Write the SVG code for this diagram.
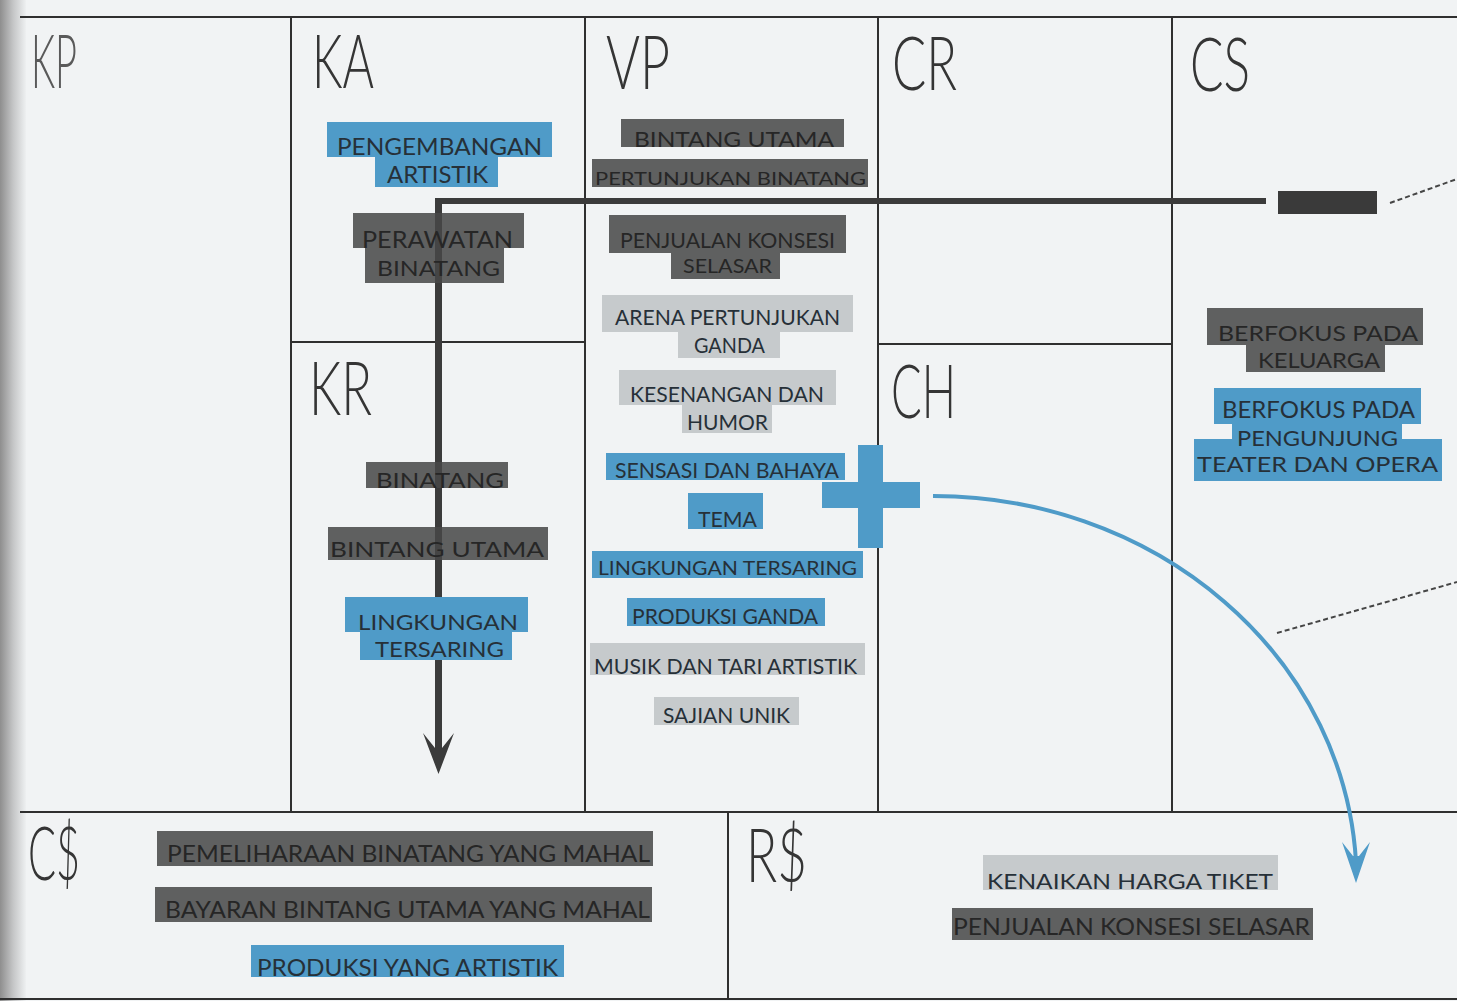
<svg xmlns="http://www.w3.org/2000/svg" width="1457" height="1001" viewBox="0 0 1457 1001">
<style>
.grid{stroke:#2f2f2f;stroke-width:2;fill:none}
.hd{font-family:Lato,"Open Sans","Liberation Sans",sans-serif;font-weight:300;font-size:74px;fill:#353535}
.lb{font-family:Lato,"Open Sans","Liberation Sans",sans-serif;fill:#263038}
.bl{fill:#4f9bc8}
.dk{fill:#474747;fill-opacity:0.86}
.lg{fill:#c6cacc}
.tdk{fill:#262626}
.dash{stroke:#454545;stroke-width:2;stroke-dasharray:5 3;fill:none}
</style>
<defs>
<linearGradient id="gutter" x1="0" y1="0" x2="1" y2="0">
<stop offset="0" stop-color="#8e8e8e"/>
<stop offset="0.5" stop-color="#c4c5c6"/>
<stop offset="1" stop-color="#eef0f1"/>
</linearGradient>
</defs>
<rect x="0" y="0" width="1457" height="1001" fill="#f1f3f4"/>
<rect x="0" y="0" width="26" height="1001" fill="url(#gutter)"/>

<g id="grid">
<line class="grid" x1="20" y1="17" x2="1457" y2="17"/>
<line class="grid" x1="291" y1="17" x2="291" y2="812"/>
<line class="grid" x1="585" y1="17" x2="585" y2="812"/>
<line class="grid" x1="878" y1="17" x2="878" y2="812"/>
<line class="grid" x1="1172" y1="17" x2="1172" y2="812"/>
<line class="grid" x1="291" y1="342" x2="585" y2="342"/>
<line class="grid" x1="878" y1="344" x2="1172" y2="344"/>
<line class="grid" x1="20" y1="812" x2="1457" y2="812"/>
<line class="grid" x1="728" y1="812" x2="728" y2="999"/>
<line class="grid" x1="0" y1="999" x2="1457" y2="999"/>
</g>

<g id="headings">
<text class="hd" x="31" y="88" textLength="46" lengthAdjust="spacingAndGlyphs" style="fill:#5a5a5a">KP</text>
<text class="hd" x="312" y="88" textLength="62" lengthAdjust="spacingAndGlyphs">KA</text>
<text class="hd" x="606" y="89" textLength="64" lengthAdjust="spacingAndGlyphs">VP</text>
<text class="hd" x="892" y="90" textLength="65" lengthAdjust="spacingAndGlyphs">CR</text>
<text class="hd" x="1190" y="91" textLength="60" lengthAdjust="spacingAndGlyphs">CS</text>
<text class="hd" x="309" y="415" textLength="63" lengthAdjust="spacingAndGlyphs">KR</text>
<text class="hd" x="891" y="418" textLength="65" lengthAdjust="spacingAndGlyphs">CH</text>
<text class="hd" x="28" y="880" textLength="52" lengthAdjust="spacingAndGlyphs">C$</text>
<text class="hd" x="746" y="882" textLength="61" lengthAdjust="spacingAndGlyphs">R$</text>
</g>

<g id="connectors">
<path d="M437 201 H1266" stroke="#3b3b3b" stroke-width="6" fill="none"/>
<path d="M438.5 198 V750" stroke="#3b3b3b" stroke-width="7" fill="none"/>
<path d="M435 748 L423 733 L438.5 774 L454 733 L442 748 Z" fill="#3b3b3b"/>
<path d="M1390 203 L1457 179" class="dash"/>
<path d="M1277 633 L1457 582" class="dash"/>
<path d="M933 496 A423 386 0 0 1 1356 862" stroke="#4f9bc8" stroke-width="4" fill="none"/>
<path d="M1353 856 L1342 842 L1356 883 L1370 842 L1359 856 Z" fill="#4f9bc8"/>
</g>

<g id="cs-marker"><rect x="1278" y="191" width="99" height="23" fill="#3a3a3a"/></g>

<g id="plus">
<rect class="bl" x="858" y="445" width="25" height="103"/>
<rect class="bl" x="822" y="482" width="98" height="26"/>
</g>

<g id="ka-pengembangan">
<rect class="bl" x="327" y="122" width="225" height="35"/>
<rect class="bl" x="375" y="157" width="123" height="30"/>
<text class="lb" x="337" y="155" font-size="23" textLength="205" lengthAdjust="spacingAndGlyphs">PENGEMBANGAN</text>
<text class="lb" x="387" y="183" font-size="23" textLength="101" lengthAdjust="spacingAndGlyphs">ARTISTIK</text>
</g>
<g id="ka-perawatan">
<rect class="dk" x="353" y="213" width="171" height="35"/>
<rect class="dk" x="365" y="248" width="139" height="35"/>
<text class="lb tdk" x="362" y="248" font-size="23" textLength="151" lengthAdjust="spacingAndGlyphs">PERAWATAN</text>
<text class="lb tdk" x="377" y="276" font-size="22" textLength="123" lengthAdjust="spacingAndGlyphs">BINATANG</text>
</g>

<g id="vp-bintang">
<rect class="dk" x="621" y="119" width="223" height="28"/>
<text class="lb tdk" x="634" y="147" font-size="21" textLength="200" lengthAdjust="spacingAndGlyphs">BINTANG UTAMA</text>
</g>
<g id="vp-pertunjukan">
<rect class="dk" x="592" y="159" width="276" height="28"/>
<text class="lb tdk" x="595" y="185" font-size="17" textLength="271" lengthAdjust="spacingAndGlyphs">PERTUNJUKAN BINATANG</text>
</g>
<g id="vp-penjualan">
<rect class="dk" x="609" y="215" width="237" height="38"/>
<rect class="dk" x="671" y="253" width="109" height="26"/>
<text class="lb tdk" x="620" y="248" font-size="21" textLength="215" lengthAdjust="spacingAndGlyphs">PENJUALAN KONSESI</text>
<text class="lb tdk" x="683" y="273" font-size="20" textLength="89" lengthAdjust="spacingAndGlyphs">SELASAR</text>
</g>
<g id="vp-arena">
<rect class="lg" x="602" y="295" width="251" height="37"/>
<rect class="lg" x="678" y="332" width="102" height="26"/>
<text class="lb" x="615" y="325" font-size="21" textLength="225" lengthAdjust="spacingAndGlyphs">ARENA PERTUNJUKAN</text>
<text class="lb" x="694" y="353" font-size="21" textLength="71" lengthAdjust="spacingAndGlyphs">GANDA</text>
</g>
<g id="vp-kesenangan">
<rect class="lg" x="619" y="370" width="217" height="35"/>
<rect class="lg" x="682" y="405" width="90" height="28"/>
<text class="lb" x="630" y="402" font-size="22" textLength="194" lengthAdjust="spacingAndGlyphs">KESENANGAN DAN</text>
<text class="lb" x="687" y="430" font-size="21" textLength="81" lengthAdjust="spacingAndGlyphs">HUMOR</text>
</g>
<g id="vp-sensasi">
<rect class="bl" x="606" y="453" width="239" height="27"/>
<text class="lb" x="615" y="478" font-size="21" textLength="224" lengthAdjust="spacingAndGlyphs">SENSASI DAN BAHAYA</text>
</g>
<g id="vp-tema">
<rect class="bl" x="688" y="493" width="75" height="36"/>
<text class="lb" x="698" y="527" font-size="21" textLength="59" lengthAdjust="spacingAndGlyphs">TEMA</text>
</g>
<g id="vp-lingkungan">
<rect class="bl" x="592" y="551" width="271" height="27"/>
<text class="lb" x="598" y="575" font-size="20" textLength="259" lengthAdjust="spacingAndGlyphs">LINGKUNGAN TERSARING</text>
</g>
<g id="vp-produksi">
<rect class="bl" x="627" y="598" width="198" height="28"/>
<text class="lb" x="632" y="624" font-size="21" textLength="186" lengthAdjust="spacingAndGlyphs">PRODUKSI GANDA</text>
</g>
<g id="vp-musik">
<rect class="lg" x="590" y="643" width="275" height="32"/>
<text class="lb" x="594" y="674" font-size="21" textLength="263" lengthAdjust="spacingAndGlyphs">MUSIK DAN TARI ARTISTIK</text>
</g>
<g id="vp-sajian">
<rect class="lg" x="654" y="697" width="145" height="28"/>
<text class="lb" x="663" y="723" font-size="21" textLength="127" lengthAdjust="spacingAndGlyphs">SAJIAN UNIK</text>
</g>

<g id="kr-binatang">
<rect class="dk" x="366" y="462" width="142" height="26"/>
<text class="lb tdk" x="376" y="488" font-size="21" textLength="128" lengthAdjust="spacingAndGlyphs">BINATANG</text>
</g>
<g id="kr-bintang">
<rect class="dk" x="328" y="527" width="220" height="33"/>
<text class="lb tdk" x="330" y="557" font-size="22" textLength="214" lengthAdjust="spacingAndGlyphs">BINTANG UTAMA</text>
</g>
<g id="kr-lingkungan">
<rect class="bl" x="345" y="597" width="183" height="35"/>
<rect class="bl" x="360" y="632" width="152" height="28"/>
<text class="lb" x="358" y="630" font-size="22" textLength="160" lengthAdjust="spacingAndGlyphs">LINGKUNGAN</text>
<text class="lb" x="375" y="657" font-size="22" textLength="129" lengthAdjust="spacingAndGlyphs">TERSARING</text>
</g>

<g id="cs-keluarga">
<rect class="dk" x="1207" y="308" width="216" height="37"/>
<rect class="dk" x="1246" y="345" width="139" height="27"/>
<text class="lb tdk" x="1218" y="341" font-size="22" textLength="200" lengthAdjust="spacingAndGlyphs">BERFOKUS PADA</text>
<text class="lb tdk" x="1258" y="368" font-size="22" textLength="122" lengthAdjust="spacingAndGlyphs">KELUARGA</text>
</g>
<g id="cs-teater">
<rect class="bl" x="1214" y="388" width="207" height="36"/>
<rect class="bl" x="1232" y="424" width="170" height="16"/>
<rect class="bl" x="1194" y="439" width="248" height="42"/>
<text class="lb" x="1222" y="418" font-size="23" textLength="193" lengthAdjust="spacingAndGlyphs">BERFOKUS PADA</text>
<text class="lb" x="1237" y="446" font-size="21" textLength="161" lengthAdjust="spacingAndGlyphs">PENGUNJUNG</text>
<text class="lb" x="1197" y="472" font-size="21" textLength="241" lengthAdjust="spacingAndGlyphs">TEATER DAN OPERA</text>
</g>

<g id="c-pemeliharaan">
<rect class="dk" x="157" y="831" width="496" height="35"/>
<text class="lb tdk" x="167" y="862" font-size="23" textLength="483" lengthAdjust="spacingAndGlyphs">PEMELIHARAAN BINATANG YANG MAHAL</text>
</g>
<g id="c-bayaran">
<rect class="dk" x="155" y="887" width="497" height="35"/>
<text class="lb tdk" x="165" y="918" font-size="23" textLength="485" lengthAdjust="spacingAndGlyphs">BAYARAN BINTANG UTAMA YANG MAHAL</text>
</g>
<g id="c-produksi">
<rect class="bl" x="251" y="945" width="313" height="32"/>
<text class="lb" x="257" y="976" font-size="24" textLength="301" lengthAdjust="spacingAndGlyphs">PRODUKSI YANG ARTISTIK</text>
</g>

<g id="r-kenaikan">
<rect class="lg" x="983" y="855" width="295" height="35"/>
<text class="lb" x="987" y="889" font-size="22" textLength="286" lengthAdjust="spacingAndGlyphs">KENAIKAN HARGA TIKET</text>
</g>
<g id="r-penjualan">
<rect class="dk" x="952" y="908" width="361" height="32"/>
<text class="lb tdk" x="953" y="935" font-size="24" textLength="357" lengthAdjust="spacingAndGlyphs">PENJUALAN KONSESI SELASAR</text>
</g>
</svg>
